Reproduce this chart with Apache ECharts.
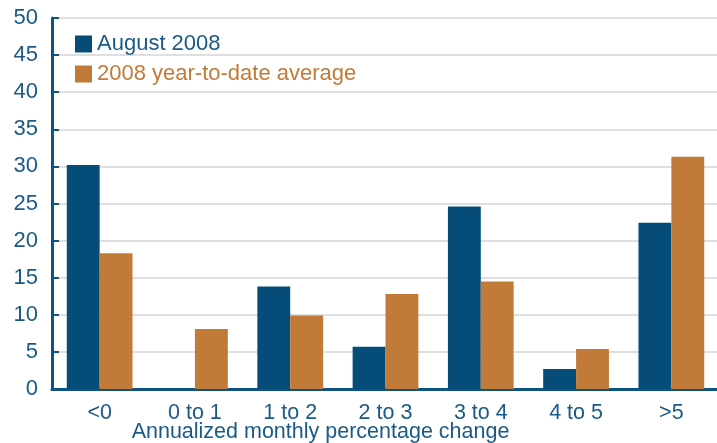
<!DOCTYPE html>
<html>
<head>
<meta charset="utf-8">
<script src="https://cdn.jsdelivr.net/npm/echarts@6/dist/echarts.min.js"></script>
<style>
  html, body { margin: 0; padding: 0; background: #fff; }
  #chart { width: 717px; height: 443px; }
</style>
</head>
<body>
<div id="chart"></div>
<script>
const categories = ['<0', '0 to 1', '1 to 2', '2 to 3', '3 to 4', '4 to 5', '>5']
const august2008 = [30.2, 0, 13.8, 5.7, 24.6, 2.7, 22.4]
const ytdAverage = [18.3, 8.1, 9.9, 12.8, 14.5, 5.4, 31.3]

const blue = '#054c78'
const orange = '#c27a38'
const textBlue = '#1b5a86'
const font = 'Liberation Sans, Arial, sans-serif'

const chart = echarts.init(document.getElementById('chart'))
chart.setOption({
  animation: false,
  textStyle: { fontFamily: font },
  grid: { left: 52, top: 18, bottom: 54, width: 667, outerBoundsMode: 'none', containLabel: false },
  legend: {
    left: 70,
    top: 28,
    orient: 'vertical',
    icon: 'rect',
    itemWidth: 17,
    itemHeight: 17,
    itemGap: 8,
    selectedMode: false,
    textStyle: { fontSize: 22, fontFamily: font },
    data: [
      { name: 'August 2008', textStyle: { color: textBlue } },
      { name: '2008 year-to-date average', textStyle: { color: orange } },
    ],
  },
  xAxis: {
    type: 'category',
    data: categories,
    name: 'Annualized monthly percentage change',
    nameLocation: 'middle',
    nameGap: 32,
    nameMoveOverlap: false,
    // reference title sits left of the plot centre
    nameTextStyle: { color: textBlue, fontSize: 21.5, padding: [0, 130, 0, 0] },
    axisLine: { lineStyle: { color: '#0d5480', width: 3 } },
    axisTick: { inside: true, length: 6, lineStyle: { color: '#0d5480', width: 2 } },
    axisLabel: { color: textBlue, fontSize: 21.5, margin: 13 },
  },
  yAxis: {
    type: 'value',
    min: 0,
    max: 50,
    interval: 5,
    axisLine: { show: true, lineStyle: { color: '#0d5480', width: 3 } },
    axisTick: { show: true, inside: true, length: 7, lineStyle: { color: '#0d5480', width: 2 } },
    axisLabel: { color: textBlue, fontSize: 22, margin: 14 },
    splitLine: { lineStyle: { color: '#d4d4d4', width: 1.5 } },
  },
  series: [
    {
      name: 'August 2008',
      type: 'bar',
      data: august2008,
      barGap: '0%',
      barCategoryGap: '31%',
      itemStyle: { color: blue },
    },
    {
      name: '2008 year-to-date average',
      type: 'bar',
      data: ytdAverage,
      itemStyle: { color: orange },
    },
  ],
})
</script>
</body>
</html>
